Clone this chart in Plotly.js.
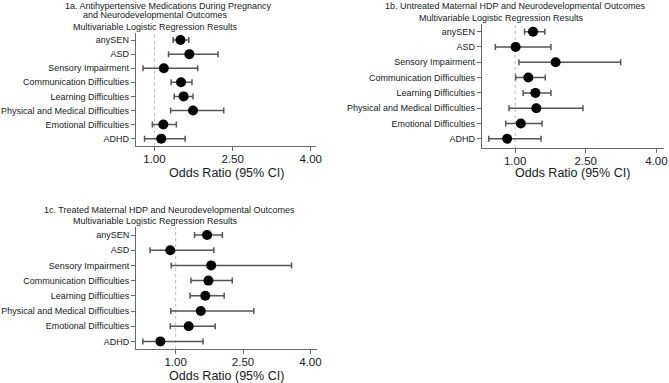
<!DOCTYPE html>
<html>
<head>
<meta charset="utf-8">
<script src="https://cdn.plot.ly/plotly-3.0.1.min.js"></script>
<style>html,body{margin:0;padding:0;background:#fff;}#chart{width:669px;height:383px;}</style>
</head>
<body>
<div id="chart"></div>
<script>
// ---- data ----
var categories = ["anySEN","ASD","Sensory Impairment","Communication Difficulties","Learning Difficulties","Physical and Medical Difficulties","Emotional Difficulties","ADHD"];

// 1a. Antihypertensive medications
var or_a = [1.50, 1.67, 1.18, 1.51, 1.56, 1.74, 1.17, 1.13];
var lo_a = [1.36, 1.27, 0.78, 1.32, 1.38, 1.31, 0.96, 0.81];
var hi_a = [1.66, 2.22, 1.83, 1.72, 1.74, 2.33, 1.42, 1.59];

// 1b. Untreated maternal HDP
var or_b = [1.38, 1.01, 1.86, 1.28, 1.43, 1.45, 1.12, 0.83];
var lo_b = [1.20, 0.58, 1.08, 1.01, 1.17, 0.87, 0.80, 0.44];
var hi_b = [1.63, 1.76, 3.24, 1.64, 1.76, 2.44, 1.57, 1.55];

// 1c. Treated maternal HDP
var or_c = [1.70, 0.88, 1.79, 1.73, 1.66, 1.56, 1.29, 0.66];
var lo_c = [1.42, 0.43, 0.90, 1.34, 1.32, 0.89, 0.88, 0.27];
var hi_c = [2.04, 1.85, 3.58, 2.26, 2.08, 2.74, 1.88, 1.61];

var tickVals = [1, 2.5, 4];
var tickText = ["1.00", "2.50", "4.00"];

var titleA1 = "1a. Antihypertensive Medications During Pregnancy";
var titleA2 = "and Neurodevelopmental Outcomes";
var titleB = "1b. Untreated Maternal HDP and Neurodevelopmental Outcomes";
var titleC = "1c. Treated Maternal HDP and Neurodevelopmental Outcomes";
var subTitle = "Multivariable Logistic Regression Results";
var xTitle = "Odds Ratio (95% CI)";

// ---- build ----
var FONT = "Arial, 'Liberation Sans', sans-serif";
var TXT = "#151a22";
var AX = "#6a6a6a";

function mkTrace(orv, lo, hi, xa, ya) {
  return {
    type: "scatter", mode: "markers",
    x: orv, y: categories, xaxis: xa, yaxis: ya,
    marker: {color: "#000", size: 10},
    error_x: {
      type: "data", symmetric: false,
      array: orv.map(function(v, i){ return hi[i] - v; }),
      arrayminus: orv.map(function(v, i){ return v - lo[i]; }),
      color: "#555", thickness: 1.5, width: 3
    },
    showlegend: false, hoverinfo: "x+y"
  };
}

var data = [
  mkTrace(or_a, lo_a, hi_a, "x", "y"),
  mkTrace(or_b, lo_b, hi_b, "x2", "y2"),
  mkTrace(or_c, lo_c, hi_c, "x3", "y3")
];

var W = 669, H = 383;
function px(x){ return x / W; }
function py(y){ return 1 - y / H; }

function xAxis(x0, x1, r0, r1, anchor) {
  return {
    domain: [px(x0), px(x1)], range: [r0, r1], anchor: anchor,
    tickvals: tickVals, ticktext: tickText,
    showline: true, linecolor: AX, linewidth: 1,
    ticks: "outside", ticklen: 4, tickcolor: AX,
    ticklabelstandoff: -2, ticklabeloverflow: "allow",
    showgrid: false, zeroline: false,
    tickfont: {family: FONT, size: 11.5, color: TXT}
  };
}
function yAxis(y0, y1, r0, anchor) {
  return {
    domain: [py(y1), py(y0)], anchor: anchor,
    type: "category", categoryorder: "array",
    categoryarray: categories.slice().reverse(),
    range: [r0, categories.length - 0.5],
    showline: true, linecolor: AX, linewidth: 1,
    ticks: "outside", ticklen: 4, tickcolor: AX,
    showgrid: false, zeroline: false,
    tickfont: {family: FONT, size: 9, color: TXT}
  };
}

function refLine(xr, yr) {
  return {type: "line", xref: xr, yref: yr + " domain", x0: 1, x1: 1, y0: 0, y1: 1,
          line: {color: "#bbbbbb", width: 1, dash: "dot"}, layer: "below"};
}
function ann(text, x, y, size) {
  return {text: text, x: px(x), y: py(y), xref: "paper", yref: "paper",
          xanchor: "center", yanchor: "middle", showarrow: false,
          font: {family: FONT, size: size, color: TXT}};
}

var layout = {
  width: W, height: H,
  margin: {l: 0, r: 0, t: 0, b: 0},
  paper_bgcolor: "#fff", plot_bgcolor: "#fff",
  font: {family: FONT, color: TXT},
  xaxis: xAxis(135.7, 316, 0.64, 4.10, "y"),
  yaxis: yAxis(33, 145.7, -0.5, "x"),
  xaxis2: xAxis(481.7, 663.5, 0.29, 4.15, "y2"),
  yaxis2: yAxis(24, 148, -0.6, "x2"),
  xaxis3: xAxis(136, 316.7, 0.117, 4.14, "y3"),
  yaxis3: yAxis(227.4, 349, -0.5, "x3"),
  shapes: [refLine("x", "y"), refLine("x2", "y2"), refLine("x3", "y3")],
  annotations: [
    ann(titleA1, 168.7, 5.5, 9),
    ann(titleA2, 155.3, 14.7, 9),
    ann(subTitle, 155.7, 26.7, 9),
    ann(titleB, 515.3, 5.7, 9),
    ann(subTitle, 501.3, 17.7, 9),
    ann(titleC, 169.7, 210, 9),
    ann(subTitle, 155.7, 221, 9),
    ann(xTitle, 226.7, 172.5, 12.5),
    ann(xTitle, 572.5, 172.5, 12.5),
    ann(xTitle, 226.4, 375.5, 12.5)
  ]
};

Plotly.newPlot("chart", data, layout, {staticPlot: true, displayModeBar: false});
</script>
</body>
</html>
